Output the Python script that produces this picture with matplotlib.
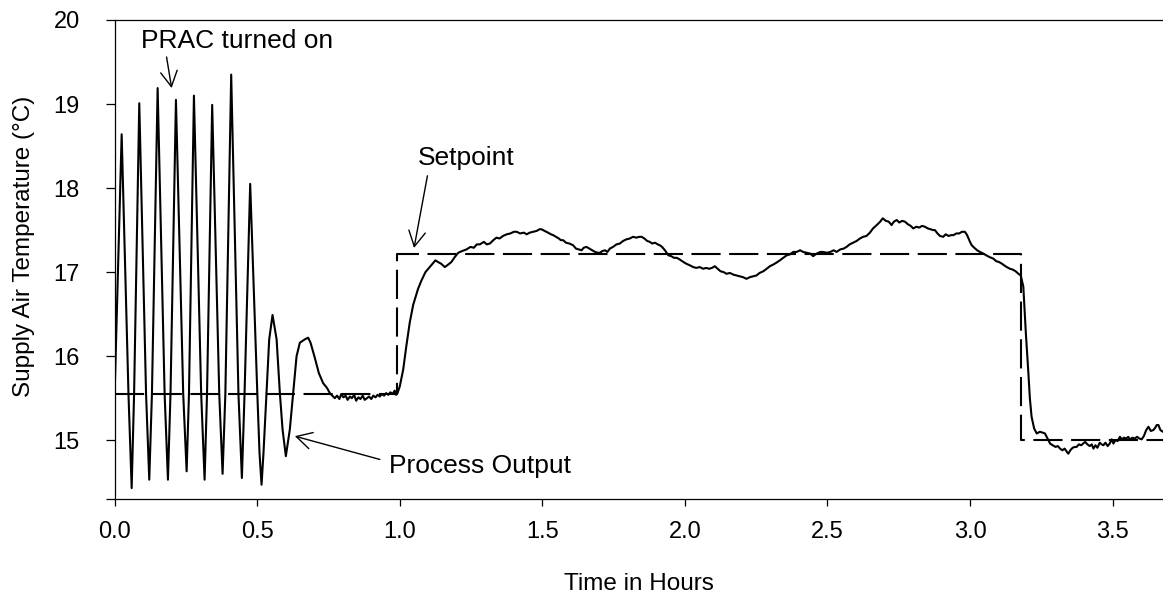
import matplotlib
matplotlib.use("Agg")
import matplotlib.pyplot as plt

plt.rcParams["font.family"] = ["Liberation Sans", "DejaVu Sans"]

# PRAC process output (supply air temperature, deg C) against time in hours
time_h = [
    0.000, 0.0245, 0.0484, 0.0596, 0.0681, 0.0863, 0.1101, 0.1213, 0.1307, 0.1507,
    0.1752, 0.1868, 0.1958, 0.2149, 0.2404, 0.2524, 0.2606, 0.2780, 0.3034, 0.3154,
    0.3239, 0.3420, 0.3668, 0.3785, 0.3882, 0.4087, 0.4342, 0.4462, 0.4555, 0.4753,
    0.5004, 0.5080, 0.5152, 0.5220, 0.5327, 0.5420, 0.5537, 0.5680, 0.5794, 0.5888,
    0.6004, 0.6144, 0.6260, 0.6380, 0.6495, 0.6670, 0.6786, 0.6870, 0.7020, 0.7160,
    0.7310, 0.7450, 0.7547, 0.7720, 0.7800, 0.7880, 0.7950, 0.8020, 0.8100, 0.8170,
    0.8250, 0.8320, 0.8400, 0.8470, 0.8550, 0.8620, 0.8700, 0.8770, 0.8850, 0.8920,
    0.9000, 0.9070, 0.9150, 0.9220, 0.9300, 0.9370, 0.9450, 0.9520, 0.9600, 0.9670,
    0.9750, 0.9820, 0.9870, 0.9920, 1.0000, 1.0120, 1.0230, 1.0350, 1.0470, 1.0640,
    1.0760, 1.0900, 1.1050, 1.1150, 1.1250, 1.1340, 1.1450, 1.1580, 1.1700, 1.1810,
    1.1930, 1.2050, 1.2180, 1.2340, 1.2480, 1.2600, 1.2700, 1.2810, 1.2950, 1.3050,
    1.3160, 1.3280, 1.3390, 1.3500, 1.3620, 1.3750, 1.3880, 1.4000, 1.4100, 1.4220,
    1.4350, 1.4450, 1.4560, 1.4680, 1.4800, 1.4900, 1.4970, 1.5080, 1.5200, 1.5300,
    1.5380, 1.5480, 1.5580, 1.5650, 1.5730, 1.5830, 1.5950, 1.6080, 1.6180, 1.6280,
    1.6380, 1.6450, 1.6550, 1.6650, 1.6750, 1.6850, 1.6950, 1.7020, 1.7100, 1.7200,
    1.7280, 1.7370, 1.7480, 1.7600, 1.7720, 1.7830, 1.7950, 1.8070, 1.8180, 1.8300,
    1.8400, 1.8480, 1.8580, 1.8680, 1.8770, 1.8850, 1.8950, 1.9050, 1.9120, 1.9200,
    1.9300, 1.9420, 1.9520, 1.9620, 1.9720, 1.9820, 1.9950, 2.0050, 2.0180, 2.0290,
    2.0400, 2.0520, 2.0640, 2.0750, 2.0850, 2.0950, 2.1050, 2.1150, 2.1250, 2.1360,
    2.1460, 2.1580, 2.1700, 2.1810, 2.1920, 2.2040, 2.2160, 2.2280, 2.2400, 2.2510,
    2.2620, 2.2750, 2.2870, 2.2980, 2.3100, 2.3200, 2.3330, 2.3450, 2.3570, 2.3680,
    2.3800, 2.3920, 2.4040, 2.4150, 2.4280, 2.4400, 2.4500, 2.4620, 2.4750, 2.4850,
    2.4980, 2.5100, 2.5220, 2.5320, 2.5450, 2.5570, 2.5670, 2.5780, 2.5900, 2.6020,
    2.6140, 2.6250, 2.6370, 2.6490, 2.6600, 2.6730, 2.6850, 2.6940, 2.7050, 2.7150,
    2.7250, 2.7330, 2.7430, 2.7520, 2.7620, 2.7720, 2.7820, 2.7920, 2.8010, 2.8120,
    2.8220, 2.8320, 2.8420, 2.8520, 2.8620, 2.8700, 2.8770, 2.8860, 2.8950, 2.9060,
    2.9150, 2.9250, 2.9340, 2.9420, 2.9520, 2.9620, 2.9720, 2.9820, 2.9900, 3.0000,
    3.0060, 3.0150, 3.0250, 3.0350, 3.0470, 3.0570, 3.0680, 3.0820, 3.0920, 3.1020,
    3.1120, 3.1200, 3.1290, 3.1400, 3.1500, 3.1600, 3.1700, 3.1780, 3.1870, 3.1960,
    3.2050, 3.2100, 3.2160, 3.2250, 3.2340, 3.2450, 3.2550, 3.2630, 3.2720, 3.2810,
    3.2900, 3.3000, 3.3080, 3.3160, 3.3240, 3.3320, 3.3400, 3.3450, 3.3520, 3.3600,
    3.3680, 3.3740, 3.3820, 3.3900, 3.3970, 3.4040, 3.4120, 3.4200, 3.4270, 3.4330,
    3.4400, 3.4470, 3.4550, 3.4620, 3.4680, 3.4750, 3.4830, 3.4900, 3.4970, 3.5030,
    3.5100, 3.5180, 3.5260, 3.5330, 3.5400, 3.5480, 3.5550, 3.5610, 3.5700, 3.5780,
    3.5860, 3.5940, 3.6020, 3.6100, 3.6180, 3.6260, 3.6340, 3.6430, 3.6500, 3.6550,
    3.6610, 3.6680, 3.6770,
]
supply_temp = [
    15.56, 18.64, 15.55, 14.43, 15.55, 19.01, 15.55, 14.53, 15.55, 19.19,
    15.55, 14.53, 15.55, 19.05, 15.55, 14.63, 15.55, 19.10, 15.55, 14.53,
    15.55, 18.99, 15.55, 14.60, 15.55, 19.35, 15.55, 14.55, 15.55, 18.05,
    15.55, 14.85, 14.47, 14.85, 15.56, 16.20, 16.49, 16.20, 15.56, 15.13,
    14.81, 15.13, 15.56, 16.00, 16.16, 16.20, 16.22, 16.16, 15.98, 15.80,
    15.68, 15.62, 15.56, 15.50, 15.53, 15.49, 15.55, 15.51, 15.53, 15.48,
    15.52, 15.50, 15.54, 15.47, 15.51, 15.49, 15.53, 15.48, 15.50, 15.52,
    15.49, 15.53, 15.51, 15.54, 15.52, 15.55, 15.53, 15.56, 15.54, 15.57,
    15.55, 15.59, 15.54, 15.56, 15.64, 15.84, 16.12, 16.40, 16.61, 16.80,
    16.90, 17.00, 17.06, 17.10, 17.14, 17.12, 17.10, 17.06, 17.09, 17.12,
    17.18, 17.23, 17.25, 17.27, 17.30, 17.29, 17.33, 17.33, 17.36, 17.33,
    17.34, 17.38, 17.41, 17.40, 17.43, 17.45, 17.46, 17.48, 17.48, 17.46,
    17.47, 17.45, 17.47, 17.48, 17.49, 17.51, 17.51, 17.49, 17.47, 17.45,
    17.44, 17.42, 17.40, 17.38, 17.38, 17.35, 17.34, 17.32, 17.28, 17.27,
    17.26, 17.29, 17.30, 17.28, 17.26, 17.24, 17.23, 17.23, 17.25, 17.26,
    17.24, 17.28, 17.30, 17.33, 17.34, 17.37, 17.39, 17.40, 17.42, 17.41,
    17.42, 17.42, 17.40, 17.37, 17.36, 17.34, 17.35, 17.33, 17.32, 17.30,
    17.26, 17.20, 17.19, 17.17, 17.17, 17.15, 17.12, 17.10, 17.08, 17.06,
    17.05, 17.06, 17.04, 17.05, 17.04, 17.05, 17.07, 17.04, 17.01, 17.00,
    16.98, 16.99, 16.97, 16.96, 16.95, 16.94, 16.92, 16.94, 16.95, 16.96,
    16.99, 17.01, 17.04, 17.07, 17.09, 17.11, 17.14, 17.17, 17.20, 17.21,
    17.24, 17.24, 17.26, 17.24, 17.23, 17.22, 17.19, 17.22, 17.24, 17.24,
    17.23, 17.24, 17.26, 17.24, 17.27, 17.28, 17.30, 17.33, 17.35, 17.37,
    17.40, 17.42, 17.43, 17.47, 17.52, 17.56, 17.60, 17.64, 17.61, 17.60,
    17.56, 17.60, 17.62, 17.59, 17.61, 17.60, 17.57, 17.55, 17.52, 17.54,
    17.53, 17.55, 17.54, 17.52, 17.51, 17.50, 17.50, 17.46, 17.43, 17.42,
    17.45, 17.43, 17.44, 17.44, 17.46, 17.46, 17.48, 17.48, 17.44, 17.36,
    17.32, 17.29, 17.26, 17.24, 17.22, 17.20, 17.18, 17.16, 17.13, 17.12,
    17.10, 17.08, 17.06, 17.04, 17.03, 17.01, 16.98, 16.96, 16.83, 16.27,
    15.79, 15.50, 15.28, 15.14, 15.08, 15.10, 15.09, 15.08, 15.02, 14.96,
    14.94, 14.92, 14.93, 14.90, 14.88, 14.90, 14.86, 14.84, 14.88, 14.91,
    14.92, 14.92, 14.95, 14.94, 14.96, 14.98, 14.95, 14.93, 14.95, 14.90,
    14.94, 14.91, 14.97, 14.95, 14.94, 14.97, 14.93, 14.96, 15.01, 14.96,
    15.00, 14.99, 15.04, 15.01, 15.03, 15.02, 15.04, 15.01, 15.03, 15.02,
    15.04, 15.02, 15.01, 15.05, 15.12, 15.16, 15.11, 15.12, 15.15, 15.18,
    15.18, 15.12, 15.10,
]

# setpoint schedule (step changes)
sp_time = [0.0, 0.99, 0.99, 3.178, 3.178, 3.677]
sp_temp = [15.555, 15.555, 17.22, 17.22, 15.0, 15.0]

x_ticks = [0.0, 0.5, 1.0, 1.5, 2.0, 2.5, 3.0, 3.5]
y_ticks = [15, 16, 17, 18, 19, 20]

fig = plt.figure(figsize=(11.63, 6.04), dpi=100)
ax = fig.add_axes([0.0986, 0.1738, 0.9014, 0.7931])

ax.plot(sp_time, sp_temp, color="black", lw=1.5, dashes=(14, 4.1))
ax.plot(time_h, supply_temp, color="black", lw=1.5)

ax.set_xlim(0, 3.677)
ax.set_ylim(14.30, 20)
ax.set_xticks(x_ticks)
ax.set_xticklabels([f"{v:.1f}" for v in x_ticks])
ax.set_yticks(y_ticks)
ax.set_yticks([14.30], minor=True)

ax.spines["right"].set_visible(False)
for side in ("left", "bottom", "top"):
    ax.spines[side].set_linewidth(0.9)

ax.tick_params(axis="both", which="both", direction="out", width=0.9,
               labelsize=17, colors="black")
ax.tick_params(axis="y", which="both", length=6.5, pad=18.5)
ax.tick_params(axis="x", length=5, pad=11)

ax.set_xlabel("Time in Hours", fontsize=17.5)
ax.xaxis.set_label_coords(0.5, -0.155)
ax.set_ylabel("Supply Air Temperature (\u00b0C)", fontsize=17.5)
ax.yaxis.set_label_coords(-0.076, 0.527)

# open V arrowheads, sized like the label text
arrow = dict(arrowstyle="->,head_length=0.55,head_width=0.3", color="black",
             lw=1.0, shrinkA=0, shrinkB=0, mutation_scale=20)

ax.text(0.094, 19.664, "PRAC turned on", fontsize=19, ha="left", va="baseline")
ax.annotate("", xy=(0.1998, 19.19), xytext=(0.182, 19.56), arrowprops=arrow)

ax.text(1.064, 18.277, "Setpoint", fontsize=19, ha="left", va="baseline")
ax.annotate("", xy=(1.050, 17.287), xytext=(1.097, 18.146), arrowprops=arrow)

ax.text(0.9625, 14.612, "Process Output", fontsize=19, ha="left", va="baseline")
ax.annotate("", xy=(0.632, 15.048), xytext=(0.930, 14.771), arrowprops=arrow)

fig.savefig("out.png", dpi=100)
